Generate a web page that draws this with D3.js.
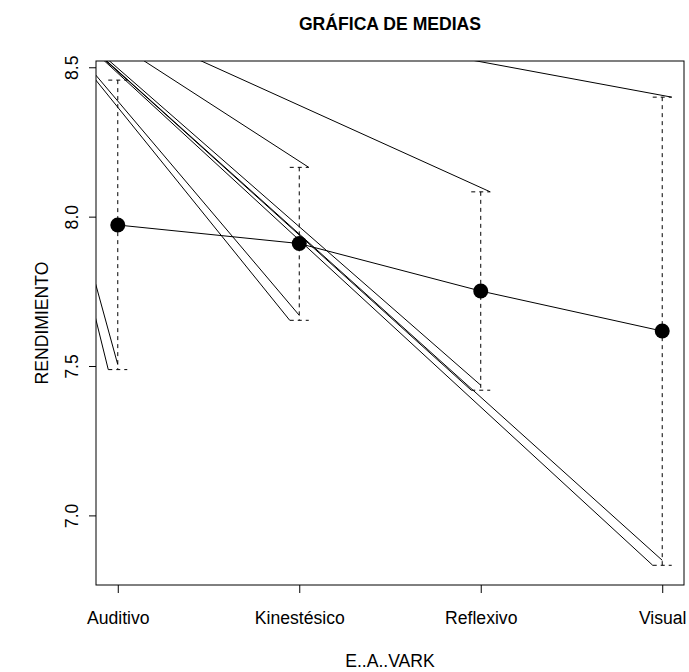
<!DOCTYPE html>
<html>
<head>
<meta charset="utf-8">
<script src="https://cdn.jsdelivr.net/npm/d3@7"></script>
<style>
  body { margin: 0; background: #fff; }
  text { font-family: "Liberation Sans", Arial, sans-serif; fill: #000; }
</style>
</head>
<body>
<div id="chart"></div>
<script>
// data
const categories = ["Auditivo", "Kinestésico", "Reflexivo", "Visual"];
const means = [7.972, 7.910, 7.751, 7.617];
const upper = [8.457, 8.165, 8.083, 8.400];
const lower = [7.488, 7.653, 7.419, 6.833];
const yTicks = [7.0, 7.5, 8.0, 8.5];
// the stray solid segments all run off towards this point (data units)
const vanish = { x: 0.41, y: 8.81 };

const width = 689, height = 672;
const margin = { left: 96, right: 5, top: 61, bottom: 87 };
const fontSize = 17.6;

const svg = d3.select("#chart").append("svg")
    .attr("width", width)
    .attr("height", height);

const x = d3.scaleLinear().domain([0.88, 4.12]).range([margin.left, width - margin.right]);
const y = d3.scaleLinear().domain([6.767, 8.521]).range([height - margin.bottom, margin.top]);

svg.append("clipPath").attr("id", "plotclip")
  .append("rect")
    .attr("x", x.range()[0])
    .attr("y", y.range()[1])
    .attr("width", x.range()[1] - x.range()[0])
    .attr("height", y.range()[0] - y.range()[1]);

const plot = svg.append("g").attr("clip-path", "url(#plotclip)");

const capHalf = 9.5;

// stray segments from the CI ends
let segs = [];
for (let i = 0; i < categories.length; i++) {
  const cx = x(i + 1);
  segs.push([cx + capHalf, y(upper[i])]);
  segs.push([cx - capHalf, y(lower[i])]);
  segs.push([cx, y(lower[i]) - 5]);
}
plot.selectAll("line.stray").data(segs).join("line")
    .attr("class", "stray")
    .attr("x1", d => d[0])
    .attr("y1", d => d[1])
    .attr("x2", x(vanish.x))
    .attr("y2", y(vanish.y))
    .attr("stroke", "#000")
    .attr("stroke-width", 1);

// CI bars (dashed)
const bars = plot.append("g").attr("stroke", "#000").attr("stroke-dasharray", "4,4").attr("fill", "none");
categories.forEach((c, i) => {
  const cx = x(i + 1);
  bars.append("line")
      .attr("x1", cx).attr("x2", cx)
      .attr("y1", y(upper[i])).attr("y2", y(lower[i]));
  [upper[i], lower[i]].forEach(v => {
    bars.append("line")
        .attr("x1", cx - capHalf).attr("x2", cx + capHalf)
        .attr("y1", y(v)).attr("y2", y(v));
  });
});

// line joining the means
plot.append("path")
    .datum(means)
    .attr("fill", "none")
    .attr("stroke", "#000")
    .attr("d", d3.line().x((d, i) => x(i + 1)).y(d => y(d)));

plot.selectAll("circle").data(means).join("circle")
    .attr("cx", (d, i) => x(i + 1))
    .attr("cy", d => y(d))
    .attr("r", 7.5)
    .attr("fill", "#000");

// box
svg.append("rect")
    .attr("x", x.range()[0])
    .attr("y", y.range()[1])
    .attr("width", x.range()[1] - x.range()[0])
    .attr("height", y.range()[0] - y.range()[1])
    .attr("fill", "none")
    .attr("stroke", "#000");

// axes
const yAxis = svg.append("g")
    .attr("transform", `translate(${x.range()[0]},0)`)
    .call(d3.axisLeft(y).tickValues(yTicks).tickFormat(d3.format(".1f")).tickSize(7).tickSizeOuter(0));
yAxis.select(".domain").remove();
yAxis.selectAll("text")
    .attr("font-size", fontSize)
    .attr("font-family", "Liberation Sans, Arial, sans-serif")
    .attr("text-anchor", "middle")
    .attr("dy", 0)
    .attr("x", 0).attr("y", 0)
    .attr("transform", "translate(-18,0) rotate(-90)");

const xAxis = svg.append("g")
    .attr("transform", `translate(0,${y.range()[0]})`)
    .call(d3.axisBottom(x).tickValues([1, 2, 3, 4]).tickFormat(d => categories[d - 1]).tickSize(8).tickSizeOuter(0));
xAxis.select(".domain").remove();
xAxis.selectAll("text")
    .attr("font-size", fontSize)
    .attr("font-family", "Liberation Sans, Arial, sans-serif")
    .attr("dy", 0)
    .attr("y", 39);

// titles
const midX = (x.range()[0] + x.range()[1]) / 2;
svg.append("text")
    .attr("x", midX).attr("y", 30)
    .attr("text-anchor", "middle")
    .attr("font-size", fontSize)
    .attr("font-weight", "bold")
    .text("GRÁFICA DE MEDIAS");

svg.append("text")
    .attr("x", midX).attr("y", 667)
    .attr("text-anchor", "middle")
    .attr("font-size", fontSize)
    .text("E..A..VARK");

svg.append("text")
    .attr("transform", `translate(48,${(y.range()[0] + y.range()[1]) / 2}) rotate(-90)`)
    .attr("text-anchor", "middle")
    .attr("font-size", fontSize)
    .text("RENDIMIENTO");
</script>
</body>
</html>
